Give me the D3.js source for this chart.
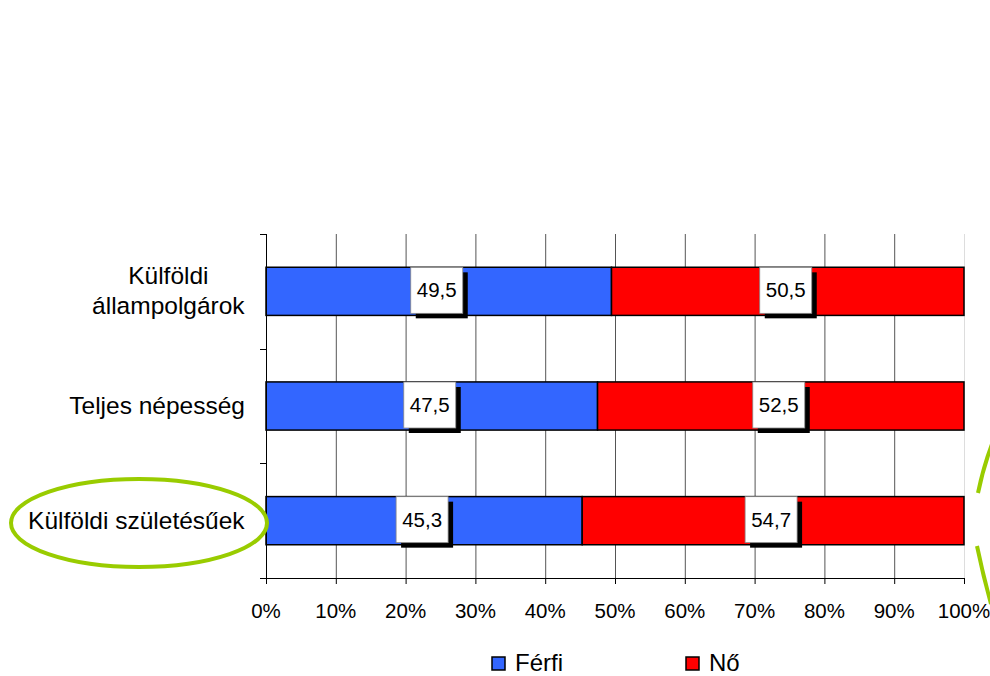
<!DOCTYPE html>
<html><head><meta charset="utf-8">
<script src="https://cdn.jsdelivr.net/npm/d3@7"></script>
<style>body{margin:0;background:#fff}svg{display:block;font-family:"Liberation Sans",Arial,sans-serif}</style>
</head><body>
<svg id="c" width="990" height="676"></svg>
<script>
const categories = ["Külföldi állampolgárok", "Teljes népesség", "Külföldi születésűek"];
const categoryLines = [["Külföldi", "állampolgárok"], ["Teljes népesség"], ["Külföldi születésűek"]];
const ferfi = [49.5, 47.5, 45.3];
const no = [50.5, 52.5, 54.7];
const seriesNames = ["Férfi", "Nő"];
const tickValues = [0, 10, 20, 30, 40, 50, 60, 70, 80, 90, 100];
const tickLabels = ["0%", "10%", "20%", "30%", "40%", "50%", "60%", "70%", "80%", "90%", "100%"];

const svg = d3.select("#c");
const L = 266, R = 964, T = 234, B = 578;
const x = d3.scaleLinear().domain([0, 100]).range([L, R]);
const y = d3.scaleBand().domain(categories).range([T, B]).paddingInner(0.58).paddingOuter(0.29);
const colors = ["#3366ff", "#ff0000"];

// gridlines
svg.append("g").selectAll("line").data(tickValues.slice(1)).join("line")
  .attr("x1", d => x(d) + 0.5).attr("x2", d => x(d) + 0.5)
  .attr("y1", T).attr("y2", B)
  .attr("stroke", d => d === 100 ? "#dddddd" : "#555").attr("stroke-width", 1);

const rows = categories.map((c, i) => ({c, segs: [
  {s: 0, x0: 0, x1: ferfi[i], v: ferfi[i]},
  {s: 1, x0: ferfi[i], x1: ferfi[i] + no[i], v: no[i]}
]}));

const g = svg.append("g");
rows.forEach(r => {
  r.segs.forEach(s => {
    g.append("rect")
      .attr("x", x(s.x0)).attr("y", y(r.c))
      .attr("width", x(s.x1) - x(s.x0)).attr("height", y.bandwidth())
      .attr("fill", colors[s.s]).attr("stroke", "#000").attr("stroke-width", 1.5);
  });
});
rows.forEach(r => {
  r.segs.forEach(s => {
    const cx = (x(s.x0) + x(s.x1)) / 2 - 2;
    const w = 52, h = 46;
    const by = y(r.c) + y.bandwidth() / 2 - h / 2 - 1;
    g.append("rect").attr("x", cx - w / 2 + 5).attr("y", by + 5).attr("width", w).attr("height", h).attr("fill", "#000");
    g.append("rect").attr("x", cx - w / 2).attr("y", by).attr("width", w).attr("height", h)
      .attr("fill", "#fff").attr("stroke", "#888").attr("stroke-width", 0.8);
    g.append("text").attr("x", cx).attr("y", by + h / 2 + 7).attr("text-anchor", "middle")
      .attr("font-size", 20.5).attr("fill", "#000").text(String(s.v).replace(".", ","));
  });
});

// axes
svg.append("line").attr("x1", L + 0.5).attr("x2", L + 0.5).attr("y1", T).attr("y2", B).attr("stroke", "#000");
svg.append("line").attr("x1", L).attr("x2", R + 1).attr("y1", B + 0.5).attr("y2", B + 0.5).attr("stroke", "#000");
svg.append("g").selectAll("line").data([T, T + (B - T) / 3, T + 2 * (B - T) / 3, B]).join("line")
  .attr("x1", L - 6).attr("x2", L).attr("y1", d => Math.round(d) + 0.5).attr("y2", d => Math.round(d) + 0.5).attr("stroke", "#000");
svg.append("g").selectAll("line").data(tickValues).join("line")
  .attr("x1", d => x(d) + 0.5).attr("x2", d => x(d) + 0.5).attr("y1", B).attr("y2", B + 6).attr("stroke", "#000");
svg.append("g").selectAll("text").data(tickValues).join("text")
  .attr("x", d => x(d)).attr("y", 618).attr("text-anchor", "middle").attr("font-size", 20.5)
  .text((d, i) => tickLabels[i]);

// category labels
categories.forEach((c, i) => {
  const lines = categoryLines[i];
  const cy = y(c) + y.bandwidth() / 2;
  const t = svg.append("text").attr("font-size", 24.5).attr("text-anchor", "middle");
  lines.forEach((ln, j) => {
    t.append("tspan").attr("x", 0).attr("y", cy + 8 + (j - (lines.length - 1) / 2) * 30).text(ln);
  });
  const bb = t.node().getBBox();
  t.selectAll("tspan").attr("x", 245 - bb.width / 2);
});

// legend
const leg = [{x: 492, t: seriesNames[0], c: colors[0]}, {x: 686, t: seriesNames[1], c: colors[1]}];
leg.forEach(l => {
  svg.append("rect").attr("x", l.x).attr("y", 657).attr("width", 13).attr("height", 13)
    .attr("fill", l.c).attr("stroke", "#000").attr("stroke-width", 1.5);
  svg.append("text").attr("x", l.x + 23).attr("y", 671).attr("font-size", 24).text(l.t);
});

// green annotations
svg.append("ellipse").attr("cx", 139).attr("cy", 523).attr("rx", 128).attr("ry", 44)
  .attr("fill", "none").attr("stroke", "#99cc00").attr("stroke-width", 4);
svg.append("path").attr("d", "M992,444 Q983,468 978,493").attr("fill", "none").attr("stroke", "#99cc00").attr("stroke-width", 4);
svg.append("path").attr("d", "M977,546 Q983,575 991,604").attr("fill", "none").attr("stroke", "#99cc00").attr("stroke-width", 4);
</script>
</body></html>
